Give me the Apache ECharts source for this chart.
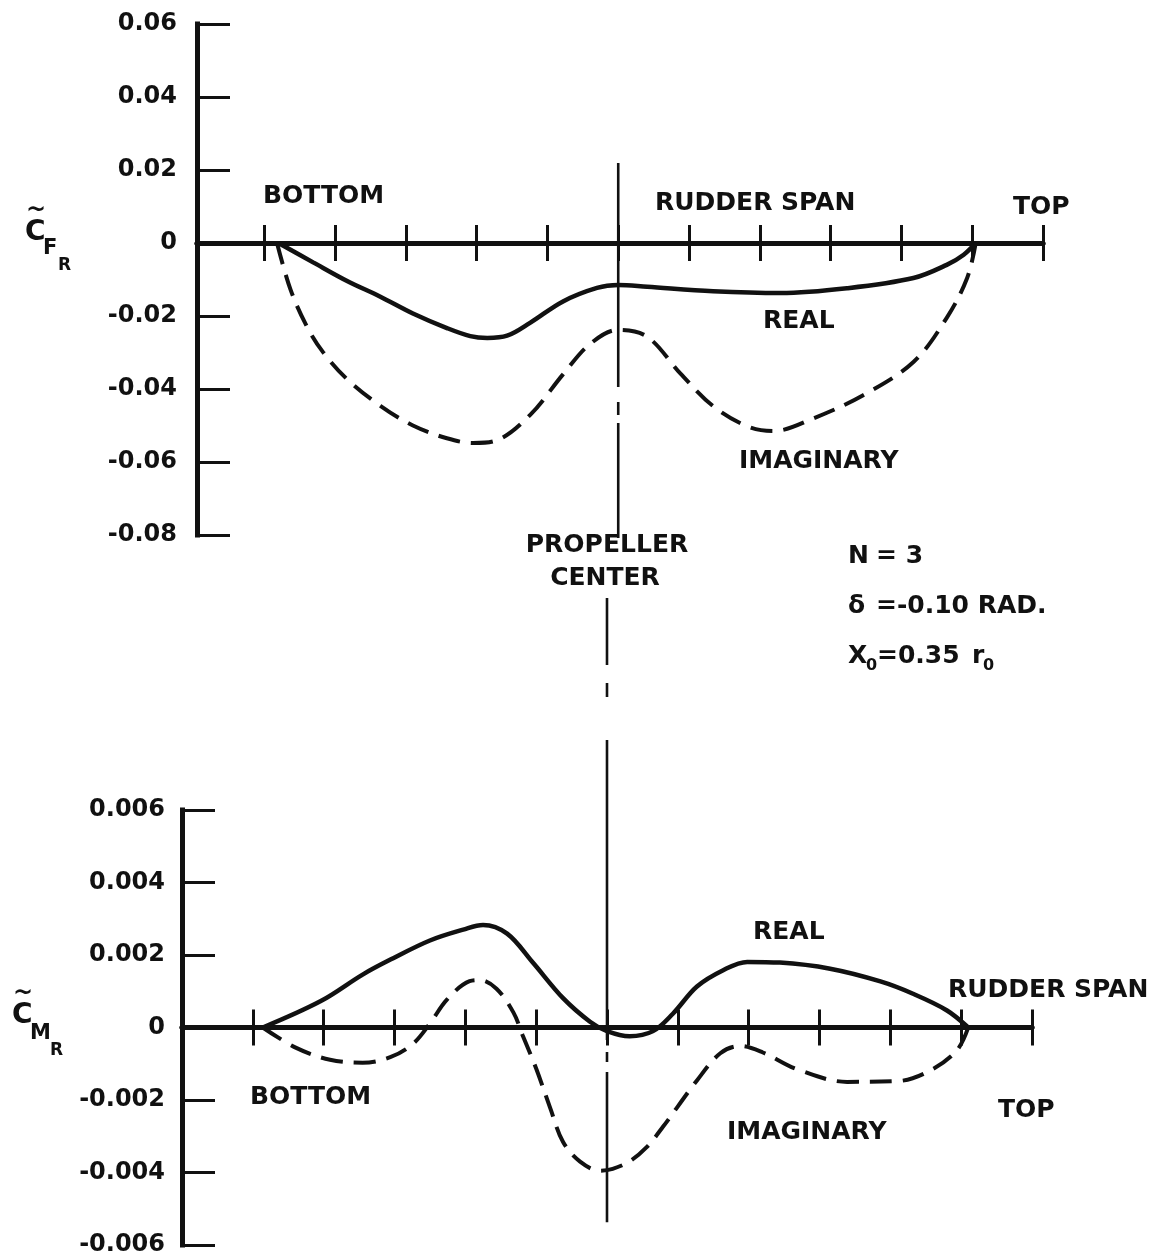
<!DOCTYPE html>
<html>
<head>
<meta charset="utf-8">
<script src="https://cdn.jsdelivr.net/npm/echarts@6/dist/echarts.min.js"></script>
<style>
  html, body { margin: 0; padding: 0; background: #ffffff; }
  #chart { width: 1164px; height: 1260px; }
</style>
</head>
<body>
<div id="chart"></div>
<script>
// Stations along the rudder span (bottom = 0 ... top), propeller center at station 5
const spanStations = [0, 1, 2, 3, 4, 5, 6, 7, 8, 9, 10, 11];
const propellerStation = 5;

// Side-force coefficient C~F_R along the span: [station, value]
const forceReal = [
  [0.2, 0], [0.69, -0.0053], [1.17, -0.0104], [1.64, -0.0147], [2.1, -0.0193],
  [2.58, -0.0233], [2.91, -0.0255], [3.15, -0.026], [3.43, -0.0254], [3.76, -0.0218],
  [4.22, -0.0160], [4.7, -0.0123], [5.0, -0.0115], [5.41, -0.012], [6.34, -0.0132],
  [7.29, -0.0137], [8.23, -0.0124], [9.17, -0.0096], [9.64, -0.006], [9.88, -0.0032],
  [10.05, 0]
];
const forceImag = [
  [0.18, 0], [0.37, -0.0127], [0.6, -0.0228], [0.83, -0.0299], [1.17, -0.0373],
  [1.64, -0.0446], [2.1, -0.05], [2.58, -0.0535], [2.95, -0.0548], [3.29, -0.054],
  [3.76, -0.047], [4.22, -0.036], [4.6, -0.0277], [5.0, -0.0238], [5.41, -0.0257],
  [5.88, -0.0358], [6.34, -0.0447], [6.82, -0.0502], [7.19, -0.0515], [7.75, -0.0481],
  [8.46, -0.0417], [9.17, -0.0326], [9.64, -0.0205], [9.93, -0.0095], [10.05, 0]
];

// Moment coefficient C~M_R along the span: [station, value]
const momentReal = [
  [0.14, 0], [0.96, 0.00073], [1.55, 0.00146], [1.95, 0.00188], [2.5, 0.0024],
  [2.97, 0.0027], [3.25, 0.00283], [3.59, 0.00259], [3.95, 0.0018], [4.38, 0.00081],
  [4.76, 0.00016], [5.0, -0.0001], [5.32, -0.00024], [5.65, -0.0001], [5.93, 0.00038],
  [6.27, 0.00113], [6.64, 0.00158], [6.98, 0.00181], [7.44, 0.00179], [8.15, 0.00162],
  [8.86, 0.00127], [9.32, 0.00093], [9.8, 0.00047], [10.1, 0]
];
const momentImag = [
  [0.14, 0], [0.62, -0.00057], [1.09, -0.00089], [1.55, -0.00097], [1.94, -0.00082],
  [2.26, -0.00045], [2.5, 0.00011], [2.74, 0.00077], [3.06, 0.00128], [3.2, 0.00131],
  [3.44, 0.00107], [3.68, 0.00041], [3.81, -0.00022], [4.0, -0.00113], [4.2, -0.00223],
  [4.38, -0.00316], [4.62, -0.0037], [4.9, -0.00395], [5.08, -0.0039], [5.32, -0.00369],
  [5.56, -0.0033], [5.79, -0.00274], [6.27, -0.00146], [6.6, -0.00071], [6.88, -0.00051],
  [7.2, -0.00069], [7.68, -0.00115], [8.39, -0.0015], [9.1, -0.00148], [9.56, -0.00119],
  [9.94, -0.00063], [10.1, 0]
];

// Vertical extent of the propeller-center line in each panel (axis units)
const forceCenterSpan = [0.0219, -0.0808];
const momentCenterSpan = [0.01185, -0.00537];

// Value-axis tick labels (ascending)
const forceTickLabels = ['-0.08', '-0.06', '-0.04', '-0.02', '0', '0.02', '0.04', '0.06'];
const momentTickLabels = ['-0.006', '-0.004', '-0.002', '0', '0.002', '0.004', '0.006'];

const INK = '#111111';
const FONT = '"DejaVu Sans", "Liberation Sans", Arial, sans-serif';

function valueAxis(gridIndex, min, max, interval, labels, margin) {
  return {
    type: 'value', gridIndex, min, max, interval,
    axisLine: { show: true, onZero: false, lineStyle: { color: INK, width: 5, cap: 'square' } },
    axisTick: { show: true, inside: true, length: 33, lineStyle: { color: INK, width: 3 } },
    axisLabel: {
      margin, color: INK, fontFamily: FONT, fontWeight: 'bold', fontSize: 24,
      formatter: (v, i) => labels[i]
    },
    splitLine: { show: false }
  };
}

// Span axis: the line with ticks pointing up, and a twin on the same zero line whose ticks
// point down, so each station mark crosses the axis.
function spanAxes(gridIndex, min, zeroAxisIndex) {
  const base = {
    type: 'value', gridIndex, min, max: 11,
    axisLabel: { show: false }, splitLine: { show: false }
  };
  return [
    Object.assign({}, base, {
      position: 'bottom',
      axisLine: { show: true, onZero: true, onZeroAxisIndex: zeroAxisIndex, lineStyle: { color: INK, width: 5 } },
      axisTick: { show: true, inside: true, length: 18, customValues: spanStations, lineStyle: { color: INK, width: 3 } }
    }),
    Object.assign({}, base, {
      position: 'top',
      axisLine: { show: true, onZero: true, onZeroAxisIndex: zeroAxisIndex, lineStyle: { color: INK, width: 5 } },
      axisTick: { show: true, inside: true, length: 18, customValues: spanStations, lineStyle: { color: INK, width: 3 } }
    })
  ];
}

function curve(data, xi, yi, dashed) {
  return {
    type: 'line', xAxisIndex: xi, yAxisIndex: yi, data,
    smooth: 0.35, symbol: 'none', silent: true,
    lineStyle: { color: INK, width: dashed ? 4 : 4.5, type: dashed ? [22, 11] : 'solid', cap: 'butt' }
  };
}

function centerLine(span, xi, yi, pattern) {
  return {
    type: 'line', xAxisIndex: xi, yAxisIndex: yi, clip: false, silent: true,
    data: [[propellerStation, span[0]], [propellerStation, span[1]]],
    symbol: 'none',
    lineStyle: { color: INK, width: 2.6, type: pattern }
  };
}

function text(str, x, y, size, align) {
  return {
    type: 'text', x, y, silent: true,
    style: {
      text: str, fill: INK, font: 'bold ' + (size || 25) + 'px ' + FONT,
      align: align || 'left', verticalAlign: 'middle',
      textAlign: align || 'left', textVerticalAlign: 'middle'
    }
  };
}

const chart = echarts.init(document.getElementById('chart'), null, { renderer: 'canvas' });

chart.setOption({
  backgroundColor: '#ffffff',
  animation: false,
  grid: [
    { left: 197, top: 24, width: 846, height: 511 },
    { left: 182, top: 810, width: 850, height: 435 }
  ],
  xAxis: [].concat(spanAxes(0, -0.95, 0), spanAxes(1, -1, 1)),
  yAxis: [
    valueAxis(0, -0.08, 0.06, 0.02, forceTickLabels, 20),
    valueAxis(1, -0.006, 0.006, 0.002, momentTickLabels, 17)
  ],
  series: [
    curve(forceReal, 0, 0, false),
    curve(forceImag, 0, 0, true),
    centerLine(forceCenterSpan, 0, 0, [224, 15, 13, 8, 200]),
    curve(momentReal, 2, 1, false),
    curve(momentImag, 2, 1, true),
    centerLine(momentCenterSpan, 2, 1, [67, 18, 14, 43, 300, 12, 10, 10, 200])
  ],
  graphic: {
    elements: [
      // upper panel annotations
      text('BOTTOM', 263, 196),
      text('RUDDER SPAN', 655, 203),
      text('TOP', 1013, 207),
      text('REAL', 763, 321),
      text('IMAGINARY', 739, 461),
      text('~', 26, 211, 24),
      text('C', 25, 233, 28),
      text('F', 43, 249, 21),
      text('R', 58, 266, 17),
      // propeller center and parameters
      text('PROPELLER', 607, 545, 25, 'center'),
      text('CENTER', 605, 578, 25, 'center'),
      text('N', 848, 556),
      text('= 3', 876, 556),
      text('\u03b4', 848, 606),
      text('=-0.10 RAD.', 876, 606),
      text('X', 848, 656),
      text('0', 866, 666, 16),
      text('=0.35', 877, 656),
      text('r', 972, 656),
      text('0', 983, 666, 16),
      // lower panel annotations
      text('~', 13, 994, 24),
      text('C', 12, 1016, 28),
      text('M', 30, 1034, 21),
      text('R', 50, 1051, 17),
      text('REAL', 753, 932),
      text('RUDDER SPAN', 948, 990),
      text('BOTTOM', 250, 1097),
      text('TOP', 998, 1110),
      text('IMAGINARY', 727, 1132)
    ]
  }
});
</script>
</body>
</html>
